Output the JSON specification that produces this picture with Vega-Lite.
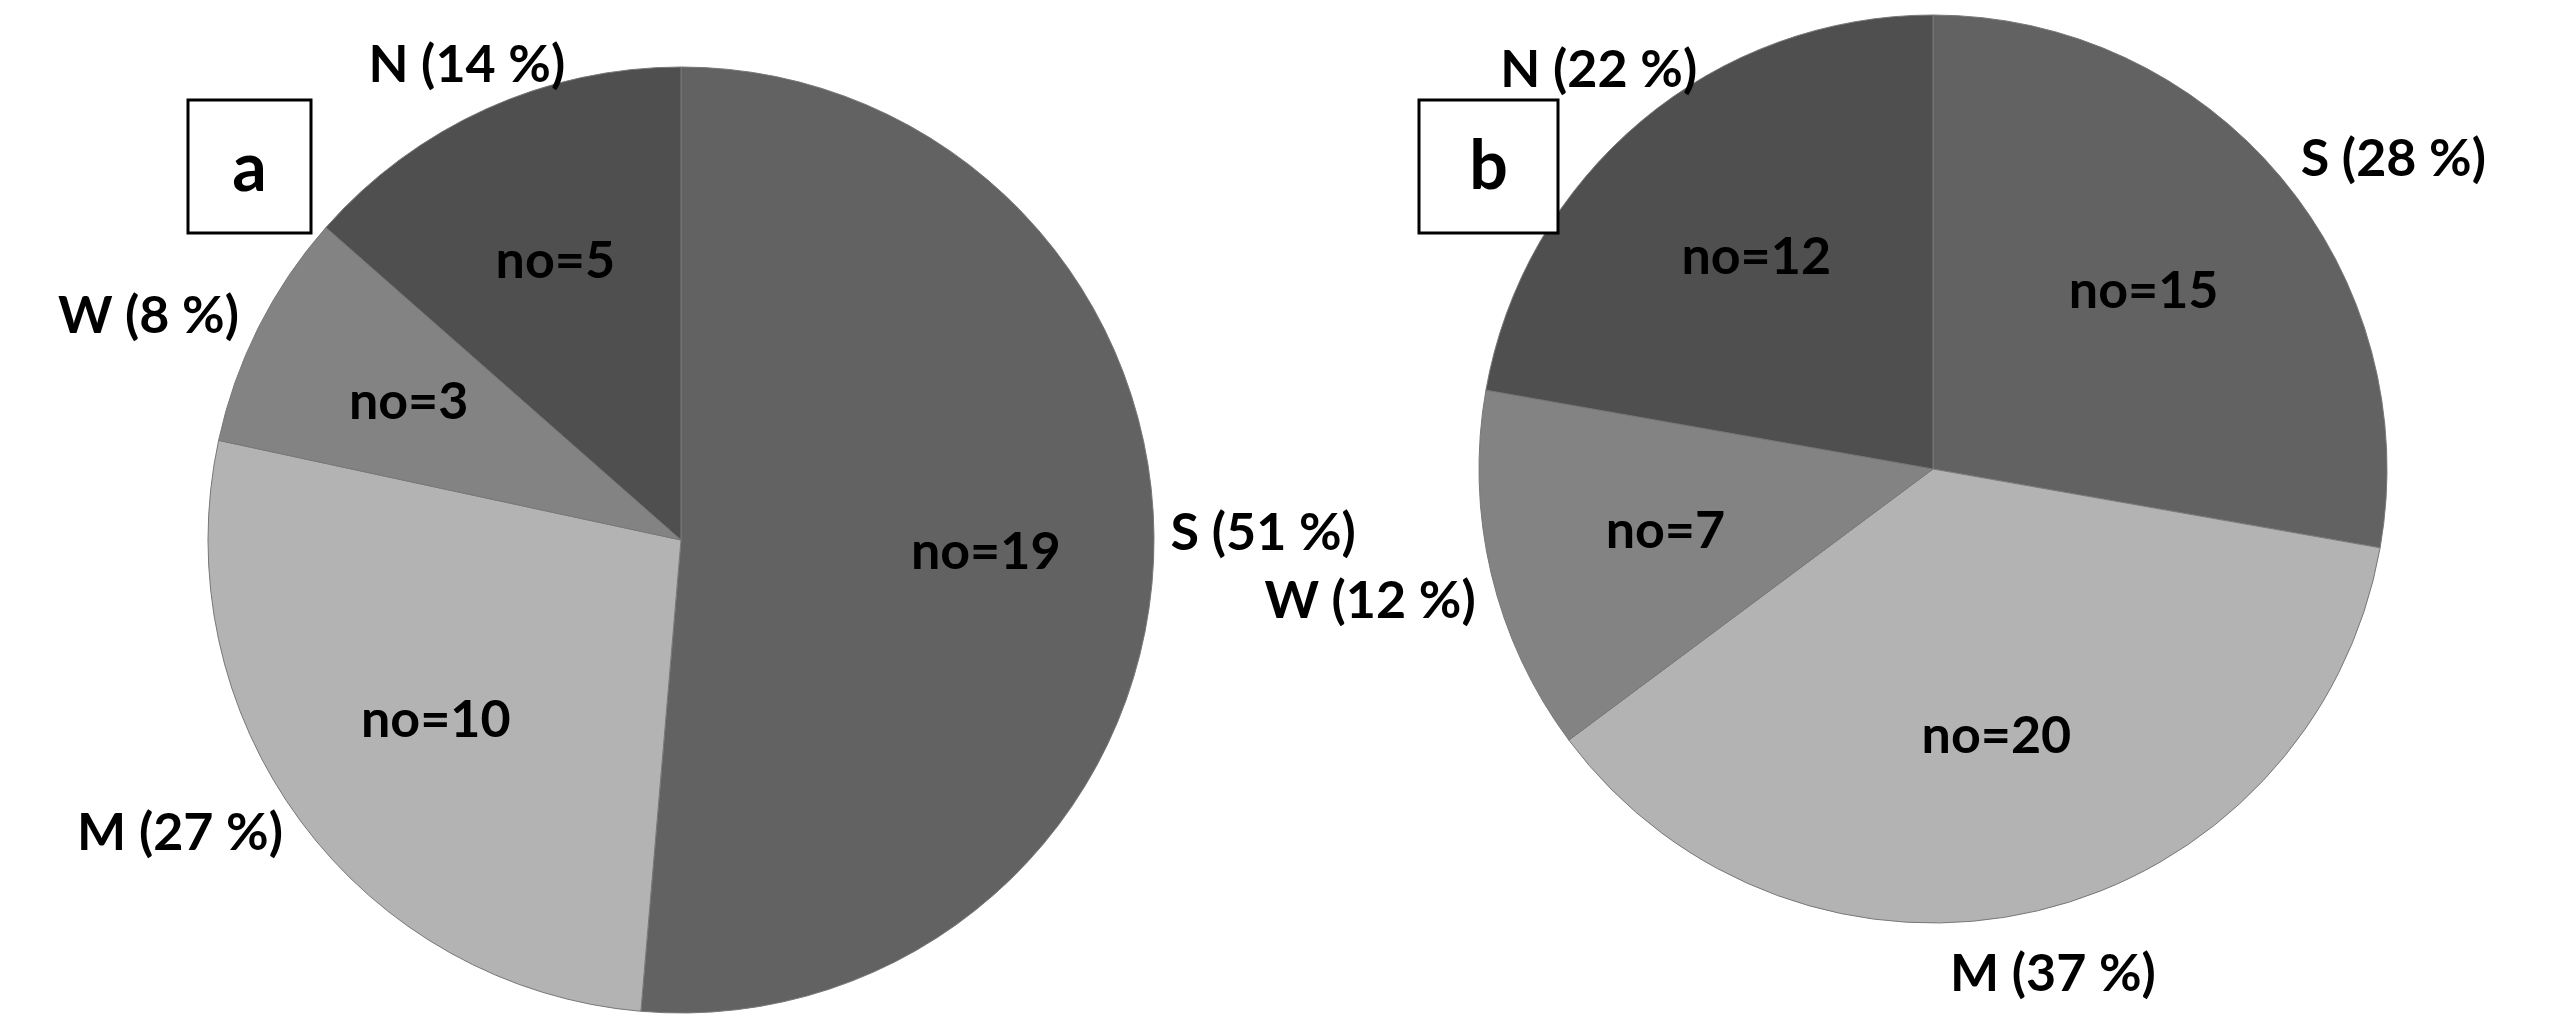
{
  "$schema": "https://vega.github.io/schema/vega-lite/v6.json",
  "padding": 0,
  "background": "white",
  "spacing": 0,
  "bounds": "flush",
  "config": {
    "view": {"stroke": null},
    "concat": {"spacing": 0},
    "text": {"font": "Lato", "fontSize": 52, "fontWeight": "bold", "color": "#000000"}
  },
  "datasets": {
    "a": [
      {"zone": "S", "ord": 1, "n": 19, "inner": "no=19", "outer": "S (51 %)"},
      {"zone": "M", "ord": 2, "n": 10, "inner": "no=10", "outer": "M (27 %)"},
      {"zone": "W", "ord": 3, "n": 3, "inner": "no=3", "outer": "W (8 %)"},
      {"zone": "N", "ord": 4, "n": 5, "inner": "no=5", "outer": "N (14 %)"}
    ],
    "b": [
      {"zone": "S", "ord": 1, "n": 15, "inner": "no=15", "outer": "S (28 %)"},
      {"zone": "M", "ord": 2, "n": 20, "inner": "no=20", "outer": "M (37 %)"},
      {"zone": "W", "ord": 3, "n": 7, "inner": "no=7", "outer": "W (12 %)"},
      {"zone": "N", "ord": 4, "n": 12, "inner": "no=12", "outer": "N (22 %)"}
    ]
  },
  "hconcat": [
    {"width": 188, "height": 200, "data": {"values": [{}]}, "mark": {"type": "text", "text": ""}, "encoding": {}},
    {
      "spacing": 0,
      "bounds": "flush",
      "vconcat": [
        {"width": 123, "height": 98, "data": {"values": [{}]}, "mark": {"type": "text", "text": ""}, "encoding": {}},
        {
          "width": 123,
          "height": 133,
          "view": {"stroke": "black", "strokeWidth": 3, "fill": "white"},
          "data": {"values": [{"t": "a"}]},
          "mark": {"type": "text", "fontSize": 68, "fontWeight": "bold", "align": "center", "baseline": "middle", "dy": 4},
          "encoding": {"text": {"field": "t", "type": "nominal"}}
        }
      ]
    },
    {
      "spacing": 0,
      "bounds": "flush",
      "vconcat": [
        {"width": 986, "height": 49, "data": {"values": [{}]}, "mark": {"type": "text", "text": ""}, "encoding": {}},
        {
          "width": 986,
          "height": 978,
          "data": {"name": "a"},
          "encoding": {
            "theta": {"field": "n", "type": "quantitative", "stack": true},
            "order": {"field": "ord", "type": "quantitative"}
          },
          "layer": [
            {
              "mark": {"type": "arc", "radius": 473, "stroke": "#787878", "strokeWidth": 1},
              "encoding": {
                "color": {"field": "zone", "type": "nominal", "legend": null,
                  "scale": {"domain": ["S", "M", "W", "N"], "range": ["#626262", "#b3b3b3", "#838383", "#4f4f4f"]}}
              }
            },
            {
              "mark": {"type": "text", "radius": 305, "align": "center", "baseline": "middle"},
              "encoding": {"text": {"field": "inner", "type": "nominal"}}
            },
            {
              "mark": {"type": "text", "radius": 490, "align": "left", "baseline": "bottom"},
              "encoding": {"text": {"condition": {"test": "datum.zone === 'S'", "field": "outer", "type": "nominal"}, "value": ""}}
            },
            {
              "mark": {"type": "text", "radius": 495, "align": "right", "baseline": "middle"},
              "encoding": {"text": {"condition": {"test": "datum.zone === 'M' || datum.zone === 'W'", "field": "outer", "type": "nominal"}, "value": ""}}
            },
            {
              "mark": {"type": "text", "radius": 520, "align": "center", "baseline": "middle"},
              "encoding": {"text": {"condition": {"test": "datum.zone === 'N'", "field": "outer", "type": "nominal"}, "value": ""}}
            }
          ]
        }
      ]
    },
    {"width": 1231, "height": 200, "data": {"values": [{}]}, "mark": {"type": "text", "text": ""}, "encoding": {}},
    {
      "spacing": 0,
      "bounds": "flush",
      "vconcat": [
        {
          "width": 1028,
          "height": 934,
          "data": {"name": "b"},
          "encoding": {
            "theta": {"field": "n", "type": "quantitative", "stack": true},
            "order": {"field": "ord", "type": "quantitative"}
          },
          "layer": [
            {
              "mark": {"type": "arc", "radius": 454, "stroke": "#787878", "strokeWidth": 1},
              "encoding": {
                "color": {"field": "zone", "type": "nominal", "legend": null,
                  "scale": {"domain": ["S", "M", "W", "N"], "range": ["#626262", "#b3b3b3", "#838383", "#4f4f4f"]}}
              }
            },
            {
              "mark": {"type": "text", "radius": 275, "align": "center", "baseline": "middle"},
              "encoding": {"text": {"field": "inner", "type": "nominal"}}
            },
            {
              "mark": {"type": "text", "radius": 480, "align": "left", "baseline": "middle"},
              "encoding": {"text": {"condition": {"test": "datum.zone === 'S'", "field": "outer", "type": "nominal"}, "value": ""}}
            },
            {
              "mark": {"type": "text", "radius": 470, "align": "right", "baseline": "top"},
              "encoding": {"text": {"condition": {"test": "datum.zone === 'W'", "field": "outer", "type": "nominal"}, "value": ""}}
            },
            {
              "mark": {"type": "text", "radius": 520, "align": "center", "baseline": "middle"},
              "encoding": {"text": {"condition": {"test": "datum.zone === 'M' || datum.zone === 'N'", "field": "outer", "type": "nominal"}, "value": ""}}
            }
          ]
        }
      ]
    },
    {
      "spacing": 0,
      "bounds": "flush",
      "vconcat": [
        {"width": 139, "height": 98, "data": {"values": [{}]}, "mark": {"type": "text", "text": ""}, "encoding": {}},
        {
          "width": 139,
          "height": 133,
          "view": {"stroke": "black", "strokeWidth": 3, "fill": "white"},
          "data": {"values": [{"t": "b"}]},
          "mark": {"type": "text", "fontSize": 68, "fontWeight": "bold", "align": "center", "baseline": "middle", "dy": 2},
          "encoding": {"text": {"field": "t", "type": "nominal"}}
        }
      ]
    }
  ]
}
